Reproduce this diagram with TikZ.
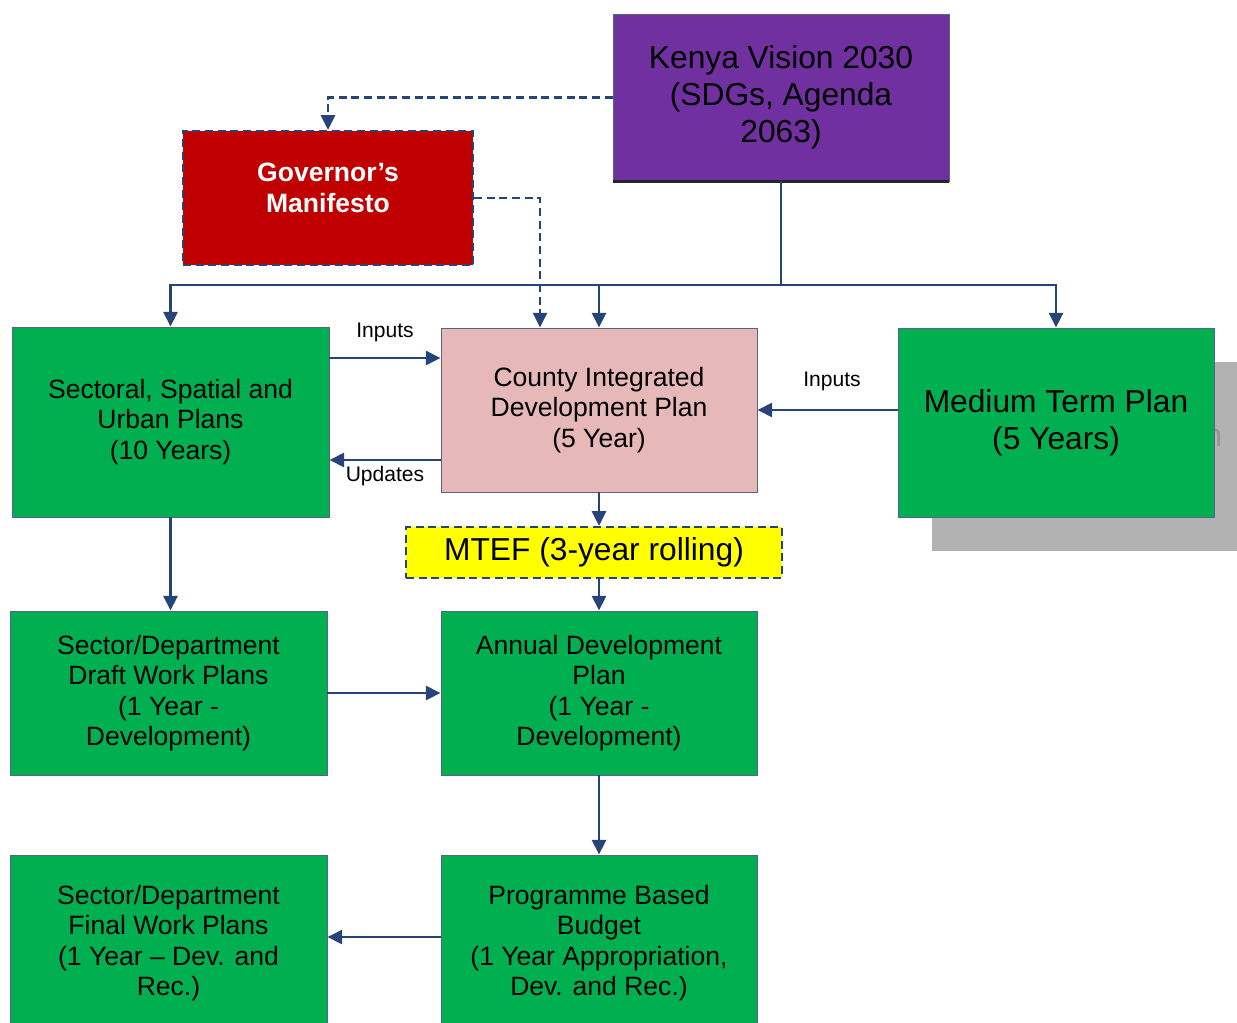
\documentclass[tikz,border=0pt]{standalone}
\usepackage{fontspec}
\setmainfont{Liberation Sans}
\usetikzlibrary{arrows.meta,calc}
\definecolor{lineblue}{RGB}{38,68,120}
\definecolor{boxgreen}{RGB}{0,176,80}
\definecolor{boxpurple}{RGB}{112,48,160}
\definecolor{boxred}{RGB}{192,0,0}
\definecolor{boxpink}{RGB}{230,185,184}
\definecolor{boxyellow}{RGB}{255,255,0}
\definecolor{shadowgray}{RGB}{178,178,178}
\definecolor{shadowtext}{RGB}{150,150,150}
\definecolor{edgegray}{RGB}{85,100,135}
\tikzset{
  box/.style={rectangle, inner sep=0pt, draw=edgegray, line width=0.7pt, align=center, text=black,
    font=\fontsize{19.9}{22.9}\selectfont},
  bigbox/.style={box, font=\fontsize{23.8}{27.7}\selectfont},
  dashbox/.style={draw=lineblue, line width=1.7pt, dash pattern=on 6pt off 3.5pt},
  conn/.style={draw=lineblue, line width=1.9pt},
  arr/.style={conn, -{Triangle[length=11pt,width=10.5pt]}},
  darr/.style={arr, line width=1.7pt, dash pattern=on 6pt off 3.5pt},
  lbl/.style={inner sep=0pt, font=\fontsize{15.8}{18}\selectfont},
}
\begin{document}
\begin{tikzpicture}[x=0.75pt,y=-0.75pt]
\useasboundingbox (0,0) rectangle (1237,1023);
\clip (0,0) rectangle (1237,1023);
% shadow of medium term plan
\node[bigbox, draw=none, fill=shadowgray, text=shadowtext, minimum width={316*0.75pt}, minimum height={189*0.75pt}] (shadow) at (1090,456.5) {Medium Term Plan\\(5 Years)};
% boxes
\node[bigbox, fill=boxpurple, minimum width={336*0.75pt}, minimum height={167*0.75pt}] (kenya) at (781,97.5) {Kenya Vision 2030\\(SDGs, Agenda\\2063)};
\draw[line width=2.2pt, black!85] (kenya.south west) -- (kenya.south east);
\node[box, fill=boxred, dashbox, minimum width={290*0.75pt}, minimum height={134*0.75pt}] (gov) at (328,198) {};
\node[inner sep=0pt, align=center, text=white, font=\fontsize{19.9}{22.9}\selectfont\bfseries] (govtext) at (328,188) {Governor’s\\Manifesto};
\node[box, fill=boxgreen, minimum width={317*0.75pt}, minimum height={190*0.75pt}] (sect) at (170.5,422) {Sectoral, Spatial and\\Urban Plans\\(10 Years)};
\node[box, fill=boxpink, minimum width={316*0.75pt}, minimum height={164*0.75pt}] (cidp) at (599,410) {County Integrated\\Development Plan\\(5 Year)};
\node[bigbox, fill=boxgreen, minimum width={316*0.75pt}, minimum height={189*0.75pt}] (mtp) at (1056,422.5) {Medium Term Plan\\(5 Years)};
\node[bigbox, fill=boxyellow, dashbox, minimum width={376*0.75pt}, minimum height={51*0.75pt}] (mtef) at (594,552.5) {MTEF (3-year rolling)};
\node[box, fill=boxgreen, minimum width={317*0.75pt}, minimum height={164*0.75pt}] (draft) at (168.5,693) {Sector/Department\\Draft Work Plans\\(1 Year -\\Development)};
\node[box, fill=boxgreen, minimum width={316*0.75pt}, minimum height={164*0.75pt}] (adp) at (599,693) {Annual Development\\Plan\\(1 Year -\\Development)};
\node[box, fill=boxgreen, minimum width={317*0.75pt}, minimum height={176*0.75pt}] (final) at (168.5,943) {Sector/Department\\Final Work Plans\\(1 Year – Dev. and\\Rec.)};
\node[box, fill=boxgreen, minimum width={316*0.75pt}, minimum height={176*0.75pt}] (pbb) at (599,943) {Programme Based\\Budget\\(1 Year Appropriation,\\Dev. and Rec.)};
% helper coordinates
\coordinate (bus) at (781,285);
\coordinate (y358) at (0,358);
\coordinate (y460) at (0,460);
\coordinate (y937) at (0,937);
\coordinate (x540) at (540,0);
% connectors from Kenya Vision
\draw[conn] (kenya.south) -- (bus);
\draw[arr] (bus) -| (sect.north);
\draw[arr] (bus) -| (cidp.north);
\draw[arr] (bus) -| (mtp.north);
% dashed connectors
\draw[darr] (kenya.west) -| (gov.north);
\draw[darr] (gov.east) -| (x540 |- cidp.north);
% inputs / updates
\draw[arr] (sect.east |- y358) -- (cidp.west |- y358);
\draw[arr] (cidp.west |- y460) -- (sect.east |- y460);
\draw[arr] (mtp.west |- cidp.east) -- (cidp.east);
\node[lbl] (in1) at (385,332) {Inputs};
\node[lbl] (upd) at (385,476) {Updates};
\node[lbl] (in2) at (832,381) {Inputs};
% vertical flows
\draw[arr] (sect.south) -- (sect.south |- draft.north);
\draw[arr] (cidp.south) -- (cidp.south |- mtef.north);
\draw[arr] (adp.north |- mtef.south) -- (adp.north);
\draw[arr] (draft.east) -- (adp.west);
\draw[arr] (adp.south) -- (pbb.north);
\draw[arr] (pbb.west |- y937) -- (final.east |- y937);
\end{tikzpicture}
\end{document}
